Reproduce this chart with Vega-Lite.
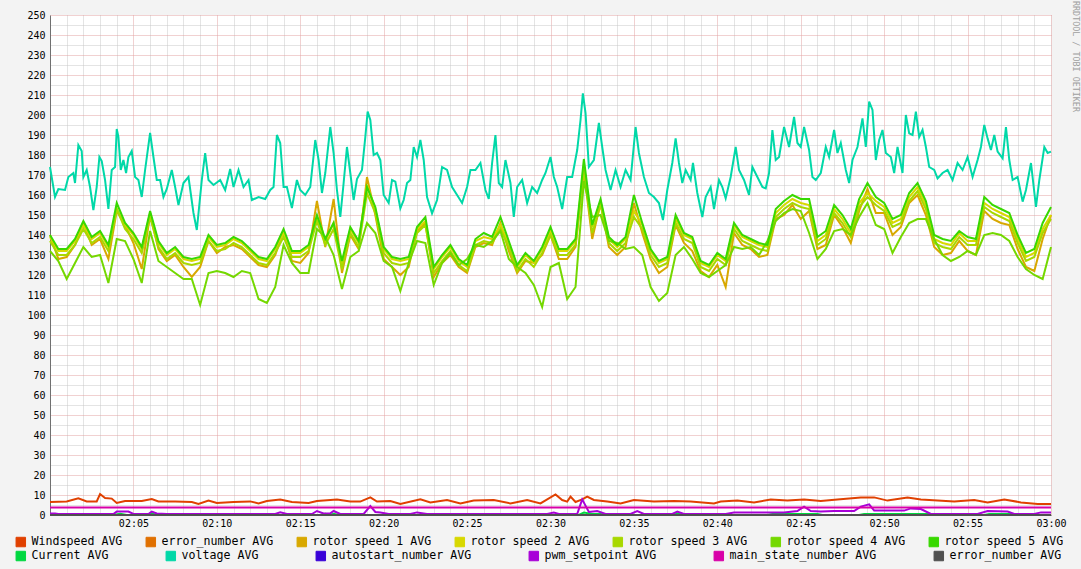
{
"$schema": "https://vega.github.io/schema/vega-lite/v6.json",
"width": 1001, "height": 500,
"autosize": {"type": "none"},
"padding": {"left": 50, "top": 15, "right": 30, "bottom": 54},
"background": "#F3F3F3",
"config": {"view": {"fill": "#FFFFFF", "stroke": null}, "font": "DejaVu Sans Mono"},
"title": {"text": "RRDTOOL / TOBI OETIKER", "orient": "right", "anchor": "start", "font": "DejaVu Sans Mono", "fontSize": 8.4, "fontWeight": "normal", "color": "#A0A0A0", "offset": 6, "dx": -9},
"datasets": {
"rot": [
{"m":0,"r1":140,"r2":139,"r3":137,"r4":132,"r5":140},
{"m":0.5,"r1":128,"r2":132,"r3":130,"r4":127,"r5":133},
{"m":1,"r1":129,"r2":132,"r3":130,"r4":118,"r5":133},
{"m":1.5,"r1":135,"r2":137,"r3":135,"r4":126,"r5":138},
{"m":2,"r1":146,"r2":145,"r3":143,"r4":134,"r5":147},
{"m":2.5,"r1":135,"r2":138,"r3":136,"r4":129,"r5":139},
{"m":3,"r1":138,"r2":141,"r3":139,"r4":130,"r5":142},
{"m":3.5,"r1":128,"r2":134,"r3":132,"r4":116,"r5":135},
{"m":4,"r1":152,"r2":153,"r3":153,"r4":138,"r5":156},
{"m":4.5,"r1":145,"r2":145,"r3":143,"r4":137,"r5":146},
{"m":5,"r1":136,"r2":140,"r3":138,"r4":128,"r5":141},
{"m":5.5,"r1":123,"r2":133,"r3":131,"r4":116,"r5":134},
{"m":6,"r1":150,"r2":151,"r3":149,"r4":142,"r5":152},
{"m":6.5,"r1":133,"r2":136,"r3":134,"r4":127,"r5":137},
{"m":7,"r1":127,"r2":130,"r3":128,"r4":124,"r5":131},
{"m":7.5,"r1":130,"r2":133,"r3":131,"r4":121,"r5":134},
{"m":8,"r1":124,"r2":128,"r3":126,"r4":118,"r5":129},
{"m":8.5,"r1":119,"r2":127,"r3":125,"r4":118,"r5":128},
{"m":9,"r1":124,"r2":128,"r3":126,"r4":105,"r5":129},
{"m":9.5,"r1":137,"r2":139,"r3":137,"r4":121,"r5":140},
{"m":10,"r1":131,"r2":134,"r3":132,"r4":122,"r5":135},
{"m":10.5,"r1":134,"r2":135,"r3":133,"r4":121,"r5":136},
{"m":11,"r1":135,"r2":138,"r3":136,"r4":119,"r5":139},
{"m":11.5,"r1":133,"r2":136,"r3":134,"r4":122,"r5":137},
{"m":12,"r1":129,"r2":132,"r3":130,"r4":121,"r5":133},
{"m":12.5,"r1":125,"r2":128,"r3":126,"r4":108,"r5":129},
{"m":13,"r1":124,"r2":127,"r3":125,"r4":106,"r5":128},
{"m":13.5,"r1":130,"r2":133,"r3":131,"r4":114,"r5":134},
{"m":14,"r1":142,"r2":141,"r3":139,"r4":135,"r5":143},
{"m":14.5,"r1":127,"r2":131,"r3":129,"r4":126,"r5":132},
{"m":15,"r1":126,"r2":131,"r3":129,"r4":121,"r5":132},
{"m":15.5,"r1":131,"r2":134,"r3":132,"r4":121,"r5":135},
{"m":16,"r1":157,"r2":149,"r3":147,"r4":143,"r5":150},
{"m":16.5,"r1":134,"r2":137,"r3":135,"r4":139,"r5":138},
{"m":17,"r1":158,"r2":146,"r3":143,"r4":130,"r5":146},
{"m":17.5,"r1":121,"r2":125,"r3":123,"r4":113,"r5":127},
{"m":18,"r1":140,"r2":143,"r3":141,"r4":129,"r5":144},
{"m":18.5,"r1":133,"r2":136,"r3":134,"r4":132,"r5":137},
{"m":19,"r1":169,"r2":165,"r3":161,"r4":146,"r5":164},
{"m":19.5,"r1":150,"r2":153,"r3":151,"r4":141,"r5":154},
{"m":20,"r1":128,"r2":133,"r3":131,"r4":127,"r5":134},
{"m":20.5,"r1":124,"r2":128,"r3":126,"r4":124,"r5":129},
{"m":21,"r1":120,"r2":127,"r3":125,"r4":112,"r5":128},
{"m":21.5,"r1":124,"r2":128,"r3":126,"r4":126,"r5":129},
{"m":22,"r1":142,"r2":143,"r3":141,"r4":137,"r5":144},
{"m":22.5,"r1":146,"r2":147,"r3":145,"r4":136,"r5":149},
{"m":23,"r1":119,"r2":123,"r3":121,"r4":115,"r5":124},
{"m":23.5,"r1":126,"r2":129,"r3":127,"r4":126,"r5":130},
{"m":24,"r1":130,"r2":134,"r3":132,"r4":131,"r5":135},
{"m":24.5,"r1":124,"r2":127,"r3":125,"r4":125,"r5":128},
{"m":25,"r1":121,"r2":124,"r3":122,"r4":128,"r5":125},
{"m":25.5,"r1":134,"r2":137,"r3":135,"r4":135,"r5":138},
{"m":26,"r1":136,"r2":139,"r3":137,"r4":134,"r5":141},
{"m":26.5,"r1":135,"r2":138,"r3":136,"r4":137,"r5":139},
{"m":27,"r1":146,"r2":145,"r3":143,"r4":142,"r5":149},
{"m":27.5,"r1":132,"r2":136,"r3":134,"r4":128,"r5":137},
{"m":28,"r1":121,"r2":124,"r3":122,"r4":124,"r5":125},
{"m":28.5,"r1":127,"r2":130,"r3":128,"r4":121,"r5":131},
{"m":29,"r1":126,"r2":126,"r3":124,"r4":115,"r5":127},
{"m":29.5,"r1":130,"r2":133,"r3":131,"r4":104,"r5":134},
{"m":30,"r1":140,"r2":142,"r3":140,"r4":124,"r5":144},
{"m":30.5,"r1":128,"r2":132,"r3":130,"r4":126,"r5":133},
{"m":31,"r1":128,"r2":132,"r3":130,"r4":108,"r5":133},
{"m":31.5,"r1":134,"r2":137,"r3":135,"r4":114,"r5":138},
{"m":32,"r1":172,"r2":175,"r3":173,"r4":167,"r5":178},
{"m":32.5,"r1":138,"r2":144,"r3":141,"r4":149,"r5":145},
{"m":33,"r1":156,"r2":157,"r3":155,"r4":150,"r5":158},
{"m":33.5,"r1":134,"r2":138,"r3":136,"r4":137,"r5":139},
{"m":34,"r1":130,"r2":134,"r3":132,"r4":136,"r5":135},
{"m":34.5,"r1":134,"r2":138,"r3":136,"r4":133,"r5":139},
{"m":35,"r1":156,"r2":152,"r3":149,"r4":134,"r5":160},
{"m":35.5,"r1":141,"r2":145,"r3":143,"r4":130,"r5":146},
{"m":36,"r1":128,"r2":132,"r3":130,"r4":114,"r5":133},
{"m":36.5,"r1":121,"r2":126,"r3":124,"r4":107,"r5":127},
{"m":37,"r1":124,"r2":128,"r3":126,"r4":111,"r5":129},
{"m":37.5,"r1":145,"r2":148,"r3":146,"r4":130,"r5":150},
{"m":38,"r1":136,"r2":140,"r3":138,"r4":134,"r5":141},
{"m":38.5,"r1":132,"r2":138,"r3":136,"r4":128,"r5":139},
{"m":39,"r1":122,"r2":126,"r3":124,"r4":121,"r5":127},
{"m":39.5,"r1":119,"r2":124,"r3":122,"r4":119,"r5":125},
{"m":40,"r1":125,"r2":130,"r3":128,"r4":122,"r5":131},
{"m":40.5,"r1":114,"r2":127,"r3":125,"r4":125,"r5":128},
{"m":41,"r1":141,"r2":145,"r3":143,"r4":134,"r5":146},
{"m":41.5,"r1":135,"r2":139,"r3":137,"r4":133,"r5":140},
{"m":42,"r1":133,"r2":137,"r3":135,"r4":134,"r5":138},
{"m":42.5,"r1":129,"r2":135,"r3":133,"r4":130,"r5":136},
{"m":43,"r1":130,"r2":134,"r3":132,"r4":137,"r5":135},
{"m":43.5,"r1":148,"r2":151,"r3":149,"r4":147,"r5":153},
{"m":44,"r1":150,"r2":155,"r3":153,"r4":151,"r5":157},
{"m":44.5,"r1":155,"r2":158,"r3":156,"r4":153,"r5":160},
{"m":45,"r1":148,"r2":156,"r3":154,"r4":152,"r5":158},
{"m":45.5,"r1":152,"r2":155,"r3":153,"r4":141,"r5":158},
{"m":46,"r1":133,"r2":137,"r3":135,"r4":128,"r5":139},
{"m":46.5,"r1":135,"r2":140,"r3":138,"r4":133,"r5":142},
{"m":47,"r1":150,"r2":153,"r3":151,"r4":142,"r5":155},
{"m":47.5,"r1":144,"r2":148,"r3":146,"r4":143,"r5":150},
{"m":48,"r1":136,"r2":141,"r3":139,"r4":140,"r5":143},
{"m":48.5,"r1":152,"r2":156,"r3":154,"r4":149,"r5":158},
{"m":49,"r1":163,"r2":161,"r3":159,"r4":156,"r5":166},
{"m":49.5,"r1":151,"r2":157,"r3":155,"r4":145,"r5":159},
{"m":50,"r1":151,"r2":154,"r3":152,"r4":143,"r5":156},
{"m":50.5,"r1":140,"r2":146,"r3":144,"r4":131,"r5":148},
{"m":51,"r1":144,"r2":148,"r3":146,"r4":139,"r5":150},
{"m":51.5,"r1":156,"r2":159,"r3":157,"r4":146,"r5":161},
{"m":52,"r1":160,"r2":164,"r3":162,"r4":148,"r5":166},
{"m":52.5,"r1":150,"r2":155,"r3":153,"r4":148,"r5":157},
{"m":53,"r1":134,"r2":138,"r3":136,"r4":138,"r5":140},
{"m":53.5,"r1":130,"r2":136,"r3":134,"r4":130,"r5":138},
{"m":54,"r1":131,"r2":135,"r3":133,"r4":127,"r5":137},
{"m":54.5,"r1":137,"r2":141,"r3":139,"r4":129,"r5":142},
{"m":55,"r1":132,"r2":137,"r3":135,"r4":132,"r5":139},
{"m":55.5,"r1":130,"r2":137,"r3":135,"r4":130,"r5":138},
{"m":56,"r1":152,"r2":156,"r3":154,"r4":140,"r5":159},
{"m":56.5,"r1":148,"r2":153,"r3":151,"r4":141,"r5":155},
{"m":57,"r1":146,"r2":151,"r3":149,"r4":140,"r5":153},
{"m":57.5,"r1":145,"r2":149,"r3":147,"r4":137,"r5":151},
{"m":58,"r1":133,"r2":138,"r3":136,"r4":129,"r5":140},
{"m":58.5,"r1":124,"r2":129,"r3":127,"r4":123,"r5":131},
{"m":59,"r1":122,"r2":131,"r3":129,"r4":120,"r5":133},
{"m":59.5,"r1":138,"r2":143,"r3":141,"r4":118,"r5":146},
{"m":60,"r1":150,"r2":150,"r3":148,"r4":134,"r5":154}
],
"volt": [
{"m":0,"y":174},{"m":0.3,"y":159},{"m":0.5,"y":163},{"m":0.9,"y":162.5},{"m":1.1,"y":169},{"m":1.4,"y":171},{"m":1.5,"y":166},{"m":1.7,"y":185},{"m":1.9,"y":182},{"m":2.0,"y":169},{"m":2.2,"y":172.5},{"m":2.4,"y":164},{"m":2.6,"y":152.5},{"m":2.8,"y":164},{"m":2.96,"y":179},{"m":3.1,"y":177},{"m":3.3,"y":167.5},{"m":3.5,"y":153},{"m":3.7,"y":172.5},{"m":3.9,"y":174},{"m":4.0,"y":193},{"m":4.1,"y":189},{"m":4.24,"y":172.5},{"m":4.4,"y":177.5},{"m":4.56,"y":171},{"m":4.7,"y":179},{"m":4.9,"y":182},{"m":5.1,"y":169},{"m":5.3,"y":167.5},{"m":5.5,"y":159},{"m":5.7,"y":172.5},{"m":6.0,"y":191},{"m":6.2,"y":179},{"m":6.4,"y":167.5},{"m":6.6,"y":167.5},{"m":6.8,"y":159},{"m":7.0,"y":163},{"m":7.3,"y":172.5},{"m":7.5,"y":164},{"m":7.7,"y":155},{"m":8.0,"y":166},{"m":8.3,"y":169},{"m":8.6,"y":151},{"m":8.8,"y":142.5},{"m":9.1,"y":167.5},{"m":9.3,"y":181},{"m":9.5,"y":167.5},{"m":9.8,"y":165},{"m":10.2,"y":167.5},{"m":10.5,"y":162.5},{"m":10.8,"y":173},{"m":11.0,"y":164},{"m":11.3,"y":172.5},{"m":11.6,"y":164},{"m":11.9,"y":167.5},{"m":12.1,"y":157.5},{"m":12.5,"y":159},{"m":12.9,"y":158},{"m":13.2,"y":162.5},{"m":13.4,"y":164},{"m":13.6,"y":190},{"m":13.8,"y":186},{"m":14.0,"y":164},{"m":14.2,"y":164},{"m":14.5,"y":153.5},{"m":14.8,"y":167.5},{"m":15.0,"y":162.5},{"m":15.3,"y":160},{"m":15.6,"y":164},{"m":15.9,"y":187.5},{"m":16.1,"y":177.5},{"m":16.3,"y":161},{"m":16.5,"y":171},{"m":16.8,"y":194},{"m":17.0,"y":181},{"m":17.2,"y":162.5},{"m":17.4,"y":149},{"m":17.6,"y":166},{"m":17.8,"y":184},{"m":18.0,"y":171},{"m":18.2,"y":157.5},{"m":18.4,"y":168},{"m":18.7,"y":172.5},{"m":18.9,"y":189},{"m":19.04,"y":201.7},{"m":19.2,"y":197.5},{"m":19.4,"y":180},{"m":19.6,"y":181},{"m":19.8,"y":177.5},{"m":20.0,"y":160},{"m":20.3,"y":156},{"m":20.5,"y":167.5},{"m":20.7,"y":166.7},{"m":21.0,"y":153.3},{"m":21.2,"y":157.5},{"m":21.4,"y":166},{"m":21.6,"y":167.5},{"m":21.8,"y":184},{"m":22.0,"y":179},{"m":22.2,"y":187.5},{"m":22.4,"y":177.5},{"m":22.6,"y":159},{"m":22.9,"y":150.8},{"m":23.2,"y":157.5},{"m":23.5,"y":174},{"m":23.8,"y":172.5},{"m":24.1,"y":164},{"m":24.4,"y":160},{"m":24.7,"y":156},{"m":25.0,"y":164},{"m":25.2,"y":172.5},{"m":25.5,"y":172.5},{"m":25.8,"y":176},{"m":26.1,"y":162.5},{"m":26.3,"y":158},{"m":26.5,"y":176},{"m":26.7,"y":190},{"m":26.9,"y":166},{"m":27.1,"y":164},{"m":27.3,"y":177.5},{"m":27.6,"y":166},{"m":27.8,"y":149},{"m":28.0,"y":164},{"m":28.3,"y":167.5},{"m":28.6,"y":156},{"m":28.9,"y":164},{"m":29.2,"y":161},{"m":29.5,"y":167.5},{"m":29.7,"y":171},{"m":30.0,"y":179},{"m":30.2,"y":169},{"m":30.4,"y":164},{"m":30.7,"y":153},{"m":31.0,"y":169},{"m":31.3,"y":169},{"m":31.6,"y":182.5},{"m":31.8,"y":197.5},{"m":31.94,"y":210.8},{"m":32.1,"y":201},{"m":32.3,"y":174},{"m":32.6,"y":177.5},{"m":32.9,"y":196},{"m":33.1,"y":184},{"m":33.3,"y":172.5},{"m":33.6,"y":162.5},{"m":33.9,"y":172.5},{"m":34.2,"y":164},{"m":34.5,"y":172.5},{"m":34.8,"y":167.5},{"m":35.1,"y":194},{"m":35.3,"y":181},{"m":35.6,"y":169},{"m":35.9,"y":161},{"m":36.2,"y":159},{"m":36.5,"y":156},{"m":36.74,"y":147.5},{"m":37.0,"y":162.5},{"m":37.3,"y":176},{"m":37.5,"y":188.3},{"m":37.7,"y":176},{"m":37.9,"y":166},{"m":38.1,"y":172.5},{"m":38.4,"y":167.5},{"m":38.54,"y":176},{"m":38.8,"y":161},{"m":39.1,"y":149},{"m":39.3,"y":159},{"m":39.6,"y":164},{"m":39.8,"y":153},{"m":40.1,"y":167.5},{"m":40.3,"y":164},{"m":40.5,"y":158.3},{"m":40.8,"y":169},{"m":41.1,"y":184},{"m":41.3,"y":172.5},{"m":41.6,"y":167.5},{"m":41.9,"y":160},{"m":42.1,"y":174},{"m":42.4,"y":169},{"m":42.7,"y":164},{"m":42.9,"y":163.3},{"m":43.1,"y":171},{"m":43.3,"y":192.5},{"m":43.5,"y":177.5},{"m":43.7,"y":179},{"m":44.0,"y":194},{"m":44.3,"y":184},{"m":44.6,"y":199},{"m":44.8,"y":186},{"m":45.0,"y":184},{"m":45.2,"y":194},{"m":45.5,"y":182.5},{"m":45.7,"y":169},{"m":45.9,"y":167.5},{"m":46.2,"y":171},{"m":46.5,"y":184},{"m":46.7,"y":179},{"m":47.0,"y":192.5},{"m":47.2,"y":181},{"m":47.4,"y":186},{"m":47.7,"y":172.5},{"m":47.9,"y":166},{"m":48.1,"y":177.5},{"m":48.4,"y":184},{"m":48.7,"y":198.3},{"m":48.9,"y":184},{"m":49.1,"y":206.7},{"m":49.3,"y":202.5},{"m":49.5,"y":177.5},{"m":49.7,"y":187.5},{"m":49.9,"y":192.5},{"m":50.1,"y":181},{"m":50.4,"y":179},{"m":50.6,"y":171},{"m":50.8,"y":184},{"m":51.1,"y":171},{"m":51.3,"y":200},{"m":51.5,"y":190.8},{"m":51.7,"y":190},{"m":51.9,"y":201.7},{"m":52.1,"y":189},{"m":52.3,"y":192.5},{"m":52.5,"y":184},{"m":52.7,"y":174},{"m":53.0,"y":172.5},{"m":53.2,"y":168.3},{"m":53.5,"y":171},{"m":53.8,"y":172.5},{"m":54.1,"y":167.5},{"m":54.4,"y":176},{"m":54.7,"y":172.5},{"m":55.0,"y":179},{"m":55.3,"y":169},{"m":55.6,"y":177.5},{"m":55.8,"y":184},{"m":56.0,"y":195},{"m":56.2,"y":188.3},{"m":56.4,"y":182.5},{"m":56.6,"y":190},{"m":56.8,"y":181.7},{"m":57.1,"y":178.3},{"m":57.3,"y":194},{"m":57.5,"y":177.5},{"m":57.7,"y":167.5},{"m":58.0,"y":169},{"m":58.3,"y":156.7},{"m":58.5,"y":162.5},{"m":58.8,"y":176},{"m":59.1,"y":154},{"m":59.3,"y":167.5},{"m":59.6,"y":184},{"m":59.8,"y":181},{"m":60.0,"y":181.7}
],
"small": [
{"s":"ws","m":0,"y":6.5},{"s":"ws","m":1,"y":6.8},{"s":"ws","m":1.7,"y":8.3},{"s":"ws","m":2.2,"y":6.8},{"s":"ws","m":2.8,"y":6.8},{"s":"ws","m":3.0,"y":10.5},{"s":"ws","m":3.3,"y":8.5},{"s":"ws","m":3.7,"y":8.2},{"s":"ws","m":4.0,"y":6},{"s":"ws","m":4.5,"y":7},{"s":"ws","m":5.5,"y":7},{"s":"ws","m":6.1,"y":8},{"s":"ws","m":6.5,"y":6.8},{"s":"ws","m":7.5,"y":6.8},{"s":"ws","m":8.5,"y":6.5},{"s":"ws","m":8.9,"y":5.5},{"s":"ws","m":9.5,"y":7.2},{"s":"ws","m":10,"y":6},{"s":"ws","m":11,"y":6.5},{"s":"ws","m":12,"y":6.8},{"s":"ws","m":12.5,"y":5.8},{"s":"ws","m":13,"y":7},{"s":"ws","m":13.8,"y":7.8},{"s":"ws","m":14.5,"y":6.5},{"s":"ws","m":15.5,"y":6},{"s":"ws","m":16,"y":7},{"s":"ws","m":17.2,"y":7.8},{"s":"ws","m":18,"y":6.8},{"s":"ws","m":18.6,"y":6.7},{"s":"ws","m":19.2,"y":8.8},{"s":"ws","m":19.6,"y":6.7},{"s":"ws","m":20.4,"y":7},{"s":"ws","m":21,"y":5.5},{"s":"ws","m":22.2,"y":7.8},{"s":"ws","m":22.8,"y":6.3},{"s":"ws","m":23.8,"y":7.5},{"s":"ws","m":24.6,"y":5.8},{"s":"ws","m":25.4,"y":7.2},{"s":"ws","m":26.6,"y":7.5},{"s":"ws","m":27.6,"y":5.8},{"s":"ws","m":28.6,"y":7.5},{"s":"ws","m":29.4,"y":5.8},{"s":"ws","m":30.3,"y":10.3},{"s":"ws","m":30.7,"y":7.5},{"s":"ws","m":31,"y":6.7},{"s":"ws","m":31.2,"y":9.2},{"s":"ws","m":31.5,"y":6.5},{"s":"ws","m":31.9,"y":7.8},{"s":"ws","m":32.2,"y":9.2},{"s":"ws","m":32.6,"y":7.5},{"s":"ws","m":33.4,"y":6.7},{"s":"ws","m":34.2,"y":5.8},{"s":"ws","m":35,"y":7.5},{"s":"ws","m":36.2,"y":6.7},{"s":"ws","m":37.4,"y":7},{"s":"ws","m":38.4,"y":6.7},{"s":"ws","m":39.8,"y":5.8},{"s":"ws","m":40.2,"y":6.7},{"s":"ws","m":41.2,"y":7.2},{"s":"ws","m":42.2,"y":6.2},{"s":"ws","m":43.2,"y":7.8},{"s":"ws","m":44.2,"y":7.2},{"s":"ws","m":45.2,"y":7.8},{"s":"ws","m":46.2,"y":7},{"s":"ws","m":47.2,"y":7.8},{"s":"ws","m":48.6,"y":8.8},{"s":"ws","m":49.4,"y":8.8},{"s":"ws","m":50.2,"y":7.2},{"s":"ws","m":51.4,"y":8.8},{"s":"ws","m":52.2,"y":7.8},{"s":"ws","m":53.2,"y":7.2},{"s":"ws","m":54.2,"y":6.7},{"s":"ws","m":55.4,"y":7.5},{"s":"ws","m":56.2,"y":6.3},{"s":"ws","m":57.2,"y":7.8},{"s":"ws","m":58.2,"y":6.3},{"s":"ws","m":59.2,"y":5.5},{"s":"ws","m":60,"y":5.5},
{"s":"en1","m":0,"y":0},{"s":"en1","m":60,"y":0},
{"s":"cur","m":0,"y":0},{"s":"cur","m":3.8,"y":0},{"s":"cur","m":4.2,"y":0.6},{"s":"cur","m":4.6,"y":0},{"s":"cur","m":5.9,"y":0},{"s":"cur","m":6.1,"y":0.8},{"s":"cur","m":6.4,"y":0},{"s":"cur","m":16.2,"y":0},{"s":"cur","m":16.5,"y":0.6},{"s":"cur","m":16.8,"y":0},{"s":"cur","m":17,"y":0.6},{"s":"cur","m":17.3,"y":0},{"s":"cur","m":25,"y":0},{"s":"cur","m":25.3,"y":0.5},{"s":"cur","m":25.6,"y":0},{"s":"cur","m":31.7,"y":0},{"s":"cur","m":32,"y":1.2},{"s":"cur","m":32.5,"y":0.5},{"s":"cur","m":33,"y":0.5},{"s":"cur","m":33.4,"y":0},{"s":"cur","m":37.4,"y":0},{"s":"cur","m":37.6,"y":0.8},{"s":"cur","m":37.9,"y":0},{"s":"cur","m":43,"y":0},{"s":"cur","m":43.3,"y":0.5},{"s":"cur","m":46,"y":0.5},{"s":"cur","m":46.3,"y":0},{"s":"cur","m":48.5,"y":0},{"s":"cur","m":48.8,"y":0.5},{"s":"cur","m":53,"y":0.5},{"s":"cur","m":53.3,"y":0},{"s":"cur","m":56,"y":0},{"s":"cur","m":56.3,"y":0.5},{"s":"cur","m":58,"y":0.5},{"s":"cur","m":58.3,"y":0},{"s":"cur","m":60,"y":0},
{"s":"as","m":0,"y":0},{"s":"as","m":60,"y":0},
{"s":"pwm","m":0,"y":0.8},{"s":"pwm","m":0.3,"y":0.8},{"s":"pwm","m":0.5,"y":0.5},{"s":"pwm","m":3.8,"y":0.5},{"s":"pwm","m":4.0,"y":1.7},{"s":"pwm","m":4.7,"y":1.7},{"s":"pwm","m":5.0,"y":0.5},{"s":"pwm","m":5.9,"y":0.5},{"s":"pwm","m":6.1,"y":1.7},{"s":"pwm","m":6.4,"y":0.8},{"s":"pwm","m":7,"y":0.5},{"s":"pwm","m":13.5,"y":0.5},{"s":"pwm","m":13.8,"y":1.3},{"s":"pwm","m":14.2,"y":0.5},{"s":"pwm","m":15.7,"y":0.5},{"s":"pwm","m":16,"y":2},{"s":"pwm","m":16.4,"y":0.8},{"s":"pwm","m":16.8,"y":0.8},{"s":"pwm","m":17,"y":2},{"s":"pwm","m":17.4,"y":0.5},{"s":"pwm","m":18.8,"y":0.5},{"s":"pwm","m":19.2,"y":4.5},{"s":"pwm","m":19.5,"y":1.5},{"s":"pwm","m":19.8,"y":1.3},{"s":"pwm","m":20.3,"y":0.5},{"s":"pwm","m":21.6,"y":0.5},{"s":"pwm","m":22,"y":1.3},{"s":"pwm","m":22.6,"y":0.5},{"s":"pwm","m":29.8,"y":0.5},{"s":"pwm","m":30.2,"y":1.2},{"s":"pwm","m":30.5,"y":0.5},{"s":"pwm","m":31.6,"y":0.5},{"s":"pwm","m":31.9,"y":7.8},{"s":"pwm","m":32.3,"y":1.5},{"s":"pwm","m":32.8,"y":2},{"s":"pwm","m":33.3,"y":0.5},{"s":"pwm","m":34.8,"y":0.5},{"s":"pwm","m":35.2,"y":2},{"s":"pwm","m":35.6,"y":0.5},{"s":"pwm","m":37.3,"y":0.5},{"s":"pwm","m":37.6,"y":1.7},{"s":"pwm","m":38,"y":0.5},{"s":"pwm","m":40.5,"y":0.5},{"s":"pwm","m":41,"y":1.2},{"s":"pwm","m":44,"y":1.2},{"s":"pwm","m":44.8,"y":2},{"s":"pwm","m":45.2,"y":4.2},{"s":"pwm","m":45.6,"y":2},{"s":"pwm","m":46.2,"y":1.7},{"s":"pwm","m":47,"y":2},{"s":"pwm","m":48.2,"y":2},{"s":"pwm","m":48.6,"y":4.2},{"s":"pwm","m":49.1,"y":5.3},{"s":"pwm","m":49.4,"y":2.2},{"s":"pwm","m":51.2,"y":2.2},{"s":"pwm","m":51.6,"y":3.3},{"s":"pwm","m":52.2,"y":3},{"s":"pwm","m":52.8,"y":0.5},{"s":"pwm","m":55.6,"y":0.5},{"s":"pwm","m":56.2,"y":2},{"s":"pwm","m":57.4,"y":1.7},{"s":"pwm","m":57.8,"y":0.5},{"s":"pwm","m":59,"y":0.5},{"s":"pwm","m":59.4,"y":1.3},{"s":"pwm","m":60,"y":1.3},
{"s":"ms","m":0,"y":3.7},{"s":"ms","m":60,"y":3.7},
{"s":"en2","m":0,"y":0},{"s":"en2","m":60,"y":0}
]
},
"resolve": {"axis": {"x": "independent", "y": "independent"}},
"layer": [
{
"data": {"name": "small"},
"transform": [{"filter": {"field": "s", "oneOf": ["ws", "en1"]}}],
"mark": {"type": "line", "strokeWidth": 2},
"encoding": {
"x": {"field": "m", "type": "quantitative", "scale": {"domain": [0, 60], "nice": false, "zero": false},
"axis": {"orient": "bottom", "values": [5,10,15,20,25,30,35,40,45,50,55,60], "labelExpr": "'0' + (2 + floor(datum.value / 60)) + ':' + (datum.value % 60 < 10 ? '0' : '') + (datum.value % 60)", "title": null, "grid": true, "gridColor": "#E3A3A3", "gridDash": [1, 1], "domain": true, "domainColor": "#707070", "ticks": false, "labelPadding": 3, "labelFont": "DejaVu Sans Mono", "labelFontSize": 10, "labelColor": "#000000", "labelFlush": false}},
"y": {"field": "y", "type": "quantitative", "scale": {"domain": [0, 250], "nice": false},
"axis": {"orient": "left", "values": [0,10,20,30,40,50,60,70,80,90,100,110,120,130,140,150,160,170,180,190,200,210,220,230,240,250], "title": null, "grid": true, "gridColor": "#E3A3A3", "gridDash": [1, 1], "domain": true, "domainColor": "#707070", "ticks": false, "labelPadding": 5, "labelFont": "DejaVu Sans Mono", "labelFontSize": 10, "labelColor": "#000000", "labelFlush": false}},
"color": {"field": "s", "type": "nominal",
"scale": {"domain": ["ws", "en1", "r1", "r2", "r3", "r4", "r5"], "range": ["#E04000", "#E07000", "#D8A800", "#D8D800", "#A8D800", "#74D800", "#38D800"]},
"legend": {"orient": "none", "legendX": -35, "legendY": 521, "direction": "horizontal", "columns": 7, "title": null, "padding": 0, "columnPadding": 21, "symbolType": "square", "symbolSize": 90, "symbolStrokeWidth": 1, "labelOffset": 5, "labelFont": "DejaVu Sans Mono", "labelFontSize": 11.6, "labelColor": "#000000", "labelLimit": 400,
"labelExpr": "{'ws': 'Windspeed AVG', 'en1': 'error_number AVG', 'r1': 'rotor speed 1 AVG', 'r2': 'rotor speed 2 AVG', 'r3': 'rotor speed 3 AVG', 'r4': 'rotor speed 4 AVG', 'r5': 'rotor speed 5 AVG'}[datum.value]",
"encode": {"symbols": {"update": {"fill": {"scale": "color", "field": "value"}, "stroke": {"value": "#000000"}, "strokeWidth": {"value": 1}, "opacity": {"value": 1}}}}}
}
}
},
{
"data": {"name": "rot"},
"transform": [{"fold": ["r1", "r2", "r3", "r4", "r5"], "as": ["s", "y"]}],
"mark": {"type": "line", "strokeWidth": 2},
"encoding": {
"x": {"field": "m", "type": "quantitative", "axis": {"orient": "bottom", "values": [1,2,3,4,6,7,8,9,11,12,13,14,16,17,18,19,21,22,23,24,26,27,28,29,31,32,33,34,36,37,38,39,41,42,43,44,46,47,48,49,51,52,53,54,56,57,58,59], "labels": false, "ticks": false, "domain": false, "title": null, "grid": true, "gridColor": "#C8C8C8", "gridDash": [1, 1]}},
"y": {"field": "y", "type": "quantitative", "axis": {"orient": "left", "values": [5,15,25,35,45,55,65,75,85,95,105,115,125,135,145,155,165,175,185,195,205,215,225,235,245], "labels": false, "ticks": false, "domain": false, "title": null, "grid": true, "gridColor": "#C8C8C8", "gridDash": [1, 1]}},
"color": {"field": "s", "type": "nominal"}
}
},
{
"data": {"name": "small"},
"transform": [{"filter": {"field": "s", "equal": "cur"}}],
"mark": {"type": "line", "strokeWidth": 2},
"encoding": {
"x": {"field": "m", "type": "quantitative", "axis": null},
"y": {"field": "y", "type": "quantitative", "axis": null},
"stroke": {"field": "s", "type": "nominal",
"scale": {"domain": ["cur", "v", "as", "pwm", "ms", "en2"], "range": ["#00D840", "#00D8A8", "#3800D8", "#A800D8", "#D800A8", "#505050"]},
"legend": {"orient": "none", "legendX": -35, "legendY": 535, "direction": "horizontal", "columns": 6, "title": null, "padding": 0, "columnPadding": 55, "symbolType": "square", "symbolSize": 90, "symbolStrokeWidth": 1, "labelOffset": 5, "labelFont": "DejaVu Sans Mono", "labelFontSize": 11.6, "labelColor": "#000000", "labelLimit": 400,
"labelExpr": "{'cur': 'Current AVG', 'v': 'voltage AVG', 'as': 'autostart_number AVG', 'pwm': 'pwm_setpoint AVG', 'ms': 'main_state_number AVG', 'en2': 'error_number AVG'}[datum.value]",
"encode": {"symbols": {"update": {"fill": {"scale": "stroke", "field": "value"}, "stroke": {"value": "#000000"}, "strokeWidth": {"value": 1}, "opacity": {"value": 1}}}}}
}
}
},
{
"data": {"name": "volt"},
"mark": {"type": "line", "strokeWidth": 2},
"encoding": {
"x": {"field": "m", "type": "quantitative", "axis": null},
"y": {"field": "y", "type": "quantitative", "axis": null},
"stroke": {"datum": "v"}
}
},
{
"data": {"name": "small"},
"transform": [{"filter": {"field": "s", "equal": "as"}}],
"mark": {"type": "line", "strokeWidth": 2},
"encoding": {"x": {"field": "m", "type": "quantitative", "axis": null}, "y": {"field": "y", "type": "quantitative", "axis": null}, "stroke": {"field": "s", "type": "nominal"}}
},
{
"data": {"name": "small"},
"transform": [{"filter": {"field": "s", "equal": "pwm"}}],
"mark": {"type": "line", "strokeWidth": 2},
"encoding": {"x": {"field": "m", "type": "quantitative", "axis": null}, "y": {"field": "y", "type": "quantitative", "axis": null}, "stroke": {"field": "s", "type": "nominal"}}
},
{
"data": {"name": "small"},
"transform": [{"filter": {"field": "s", "equal": "ms"}}],
"mark": {"type": "line", "strokeWidth": 2},
"encoding": {"x": {"field": "m", "type": "quantitative", "axis": null}, "y": {"field": "y", "type": "quantitative", "axis": null}, "stroke": {"field": "s", "type": "nominal"}}
},
{
"data": {"name": "small"},
"transform": [{"filter": {"field": "s", "equal": "en2"}}],
"mark": {"type": "line", "strokeWidth": 2},
"encoding": {"x": {"field": "m", "type": "quantitative", "axis": null}, "y": {"field": "y", "type": "quantitative", "axis": null}, "stroke": {"field": "s", "type": "nominal"}}
}
]
}
